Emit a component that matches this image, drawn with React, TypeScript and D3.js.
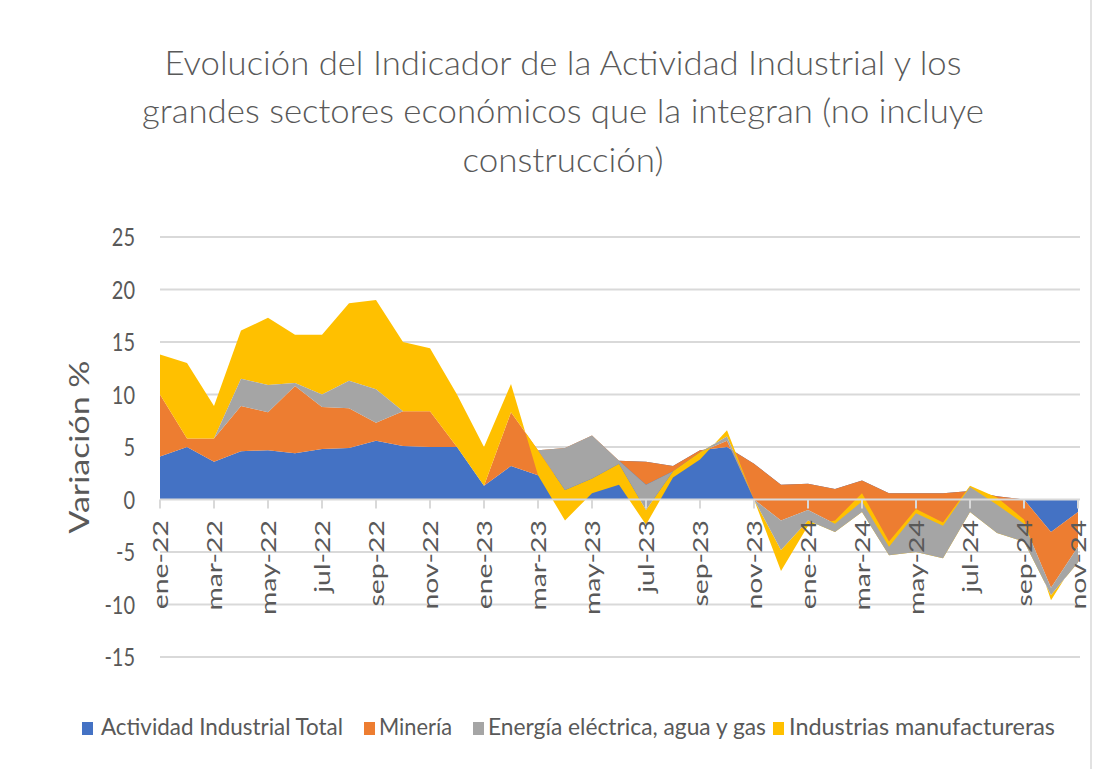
import React from 'react'
import * as d3 from 'd3'

const months = [
  'ene-22', 'feb-22', 'mar-22', 'abr-22', 'may-22', 'jun-22', 'jul-22', 'ago-22', 'sep-22', 'oct-22', 'nov-22', 'dic-22',
  'ene-23', 'feb-23', 'mar-23', 'abr-23', 'may-23', 'jun-23', 'jul-23', 'ago-23', 'sep-23', 'oct-23', 'nov-23', 'dic-23',
  'ene-24', 'feb-24', 'mar-24', 'abr-24', 'may-24', 'jun-24', 'jul-24', 'ago-24', 'sep-24', 'oct-24', 'nov-24',
]

// values as they sit in the Excel stacked area (each series piles on the previous one)
const total = [4.1, 5.0, 3.6, 4.6, 4.7, 4.4, 4.8, 4.9, 5.6, 5.1, 5.0, 5.0, 1.3, 3.2, 2.3, 2.5, 2.5, 3.7, 3.6, 3.2, 4.7, 5.0, 3.4, 1.4, 1.5, 1.0, 1.8, 0.6, 0.6, 0.6, 0.8, 0.3, 0.0, -3.1, -1.2]
const mineria = [5.9, 0.8, 2.2, 4.3, 3.6, 6.4, 4.0, 3.8, 1.7, 3.3, 3.4, 0.0, 0.0, 5.1, 2.4, 2.4, 3.6, 0.0, -2.2, -0.5, -0.2, 0.6, -3.4, -3.4, -2.5, -3.3, -2.0, -5.1, -1.9, -3.1, 0.4, -0.8, -2.3, -5.3, -3.3]
const energia = [0, 0, 0, 2.6, 2.6, 0.3, 1.2, 2.6, 3.2, 0, 0, 0, 0, 0, 0, -4.0, -4.1, -0.3, -2.4, 0, 0, 0.4, 0, -2.8, -1.0, -0.8, -1.0, -0.8, -3.7, -3.1, -2.4, -2.7, -1.7, -0.7, -1.5]
const manufactura = [3.8, 7.2, 3.1, 4.6, 6.4, 4.6, 5.7, 7.4, 8.5, 6.6, 6.0, 5.0, 3.7, 2.7, -2.4, -2.9, -1.4, -2.0, -1.4, -0.6, -0.7, 0.6, 0, -2.0, -0.5, 1.1, 1.8, 1.3, 4.1, 3.4, 2.5, 3.4, 2.1, -0.5, 0.5]

const seriesNames = ['Actividad Industrial Total', 'Minería', 'Energía eléctrica, agua y gas', 'Industrias manufactureras']
const seriesColors = ['#4472C4', '#ED7D31', '#A5A5A5', '#FFC000']
const yTicks = [-15, -10, -5, 0, 5, 10, 15, 20, 25]

const titleLines = [
  'Evolución del Indicador de la Actividad Industrial y los',
  'grandes sectores económicos que la integran (no incluye',
  'construcción)',
]

const FONT = 'Lato, "Open Sans", sans-serif'
const TEXT = '#595959'

function App() {
  const width = 1096
  const height = 769
  const plot = { left: 160, right: 1078, top: 237, bottom: 657 }

  const x = d3.scalePoint<number>()
    .domain(months.map((_, i) => i))
    .range([plot.left, plot.right])

  const y = d3.scaleLinear()
    .domain([-15, 25])
    .range([plot.bottom, plot.top])

  const rows = months.map((m, i) => ({
    s0: total[i], s1: mineria[i], s2: energia[i], s3: manufactura[i],
  }))
  const keys = ['s0', 's1', 's2', 's3']
  const stacked = d3.stack<any>().keys(keys).offset(d3.stackOffsetNone)(rows)

  const area = d3.area<any>()
    .x((_, i) => x(i) as number)
    .y0(d => y(d[0]))
    .y1(d => y(d[1]))

  // Excel paints energy last, so it sits over the manufacturing band
  const drawOrder = [0, 1, 3, 2]

  // legend layout (square x, text x, text width) as measured
  const legend = [
    { sq: 82, tx: 101, w: 242 },
    { sq: 364, tx: 379, w: 73 },
    { sq: 473, tx: 488, w: 278 },
    { sq: 773, tx: 789, w: 266 },
  ]
  const titleWidths = [797, 842, 201]
  const titleBase = [75, 123, 172]

  return (
    <svg width={width} height={height} style={{ position: 'absolute', left: 0, top: 0, background: '#fff' }} fontFamily={FONT}>
      <rect x={0} y={0} width={width} height={height} fill="#fff" />
      <line x1={1091} x2={1091} y1={0} y2={height} stroke="#d9d9d9" strokeWidth={1.5} />

      {/* title */}
      {titleLines.map((t, i) => (
        <g key={t} transform={`translate(563 ${titleBase[i]}) scale(1 1.3)`}>
          <text textAnchor="middle" fontSize={25} fontWeight={300} fill={TEXT} textLength={titleWidths[i]} lengthAdjust="spacingAndGlyphs">{t}</text>
        </g>
      ))}

      {/* gridlines */}
      {yTicks.filter(t => t !== 0).map(t => (
        <line key={t} x1={plot.left} x2={plot.right + 2} y1={y(t)} y2={y(t)} stroke="#d9d9d9" strokeWidth={2} />
      ))}

      {/* areas */}
      {drawOrder.map(k => (
        <path key={k} d={area(stacked[k] as any) || ''} fill={seriesColors[k]} />
      ))}

      {/* category axis at zero */}
      <line x1={plot.left} x2={plot.right + 2} y1={y(0)} y2={y(0)} stroke="#d9d9d9" strokeWidth={2} />
      {months.map((m, i) => i % 2 === 0 ? (
        <g key={m}>
          <line x1={x(i)} x2={x(i)} y1={y(0)} y2={y(0) + 9} stroke="#d9d9d9" strokeWidth={2} />
          <g transform={`translate(${x(i)} 520) rotate(-90) scale(1.35 1)`}>
            <text textAnchor="end" dy="0.36em" fontSize={21} fill={TEXT}>{m}</text>
          </g>
        </g>
      ) : null)}

      {/* value axis labels */}
      {yTicks.map(t => (
        <g key={t} transform={`translate(135 ${y(t)}) scale(1 1.25)`}>
          <text textAnchor="end" dy="0.36em" fontSize={20} fill={TEXT}>{t}</text>
        </g>
      ))}
      <g transform="translate(80 447) rotate(-90)">
        <text textAnchor="middle" dy="0.36em" fontSize={26} fill={TEXT} textLength={173} lengthAdjust="spacingAndGlyphs">Variación %</text>
      </g>

      {/* legend */}
      {seriesNames.map((name, i) => (
        <g key={name}>
          <rect x={legend[i].sq} y={722} width={11} height={13} fill={seriesColors[i]} />
          <g transform={`translate(${legend[i].tx} 735) scale(1 1.3)`}>
            <text fontSize={18} fill={TEXT} textLength={legend[i].w} lengthAdjust="spacingAndGlyphs">{name}</text>
          </g>
        </g>
      ))}
    </svg>
  )
}

export default App
